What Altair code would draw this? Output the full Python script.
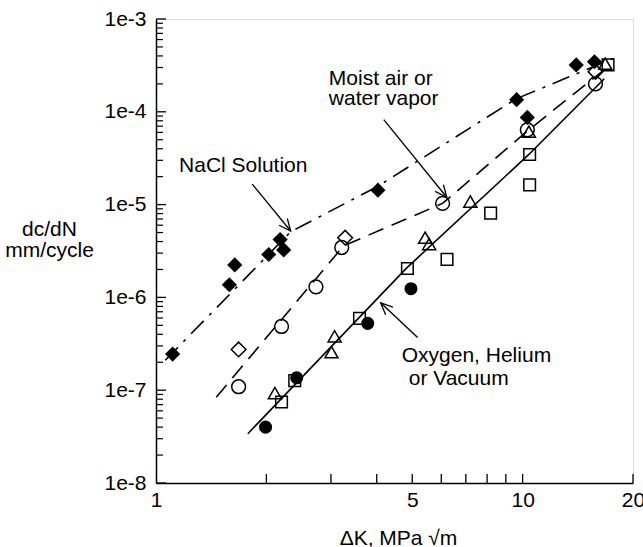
import math
import altair as alt
import pandas as pd

# ---------------- data ----------------
# NaCl solution: filled diamonds
nacl_x = [1.11, 1.585, 1.64, 2.03, 2.18, 2.23, 4.03, 9.63, 10.3, 14.0, 15.7]
nacl_y = [2.45e-7, 1.37e-6, 2.24e-6, 2.9e-6, 4.2e-6, 3.25e-6, 1.43e-5, 1.35e-4, 8.7e-5, 3.2e-4, 3.46e-4]

# Moist air / water vapor: open circles and open diamonds
moist_circ_x = [1.68, 2.20, 2.73, 3.21, 6.05, 10.3, 15.8]
moist_circ_y = [1.09e-7, 4.86e-7, 1.30e-6, 3.45e-6, 1.03e-5, 6.4e-5, 2.0e-4]
moist_diam_x = [1.68, 3.28, 15.8]
moist_diam_y = [2.75e-7, 4.4e-6, 2.7e-4]

# Oxygen, helium or vacuum: filled circles, open squares, open triangles
oxy_fcirc_x = [1.99, 2.42, 3.78, 4.96]
oxy_fcirc_y = [4.0e-8, 1.36e-7, 5.25e-7, 1.24e-6]
oxy_sq_x = [2.20, 2.39, 3.59, 4.85, 6.22, 8.18, 10.45, 10.45, 17.1]
oxy_sq_y = [7.45e-8, 1.27e-7, 5.94e-7, 2.05e-6, 2.57e-6, 8.1e-6, 1.63e-5, 3.47e-5, 3.2e-4]
oxy_tri_x = [2.11, 3.01, 3.07, 5.42, 5.56, 7.2, 10.4, 16.8]
oxy_tri_y = [9.3e-8, 2.57e-7, 3.81e-7, 4.4e-6, 3.76e-6, 1.08e-5, 6.1e-5, 3.3e-4]

# fitted curves
nacl_line_x = [1.06, 2.33, 4.0, 9.6, 17.8]
nacl_line_y = [2.1e-7, 5.1e-6, 1.55e-5, 1.38e-4, 3.8e-4]
moist_line_x = [1.46, 3.25, 6.05, 10.3, 16.8]
moist_line_y = [8.4e-8, 3.6e-6, 1.03e-5, 6.2e-5, 2.9e-4]
oxy_line_x = [1.78, 4.83, 10.4, 16.7]
oxy_line_y = [3.4e-8, 2.08e-6, 3.47e-5, 2.27e-4]

# annotations
label_center_text = ["NaCl Solution"]
label_center_x = [1.73]
label_center_y = [2.6e-5]
label_left_text = ["Moist air or", "water vapor", "Oxygen, Helium", "or Vacuum"]
label_left_x = [2.96, 2.96, 4.68, 4.89]
label_left_y = [2.27e-4, 1.39e-4, 2.31e-7, 1.31e-7]

arrow_x = [1.83, 4.18, 5.17]
arrow_y = [1.66e-5, 8.24e-5, 3.69e-7]
arrow_x2 = [2.33, 6.21, 4.10]
arrow_y2 = [5.19e-6, 1.2e-5, 8.75e-7]

# axis ticks
x_label_values = [1, 5, 10, 20]
x_tick_values = [2, 3, 4, 5, 6, 7, 8, 9, 10, 20]
y_label_values = [1e-8, 1e-7, 1e-6, 1e-5, 1e-4, 1e-3]
y_minor_mult = [2, 3, 4, 5, 6, 7, 8, 9]
y_decades = [1e-8, 1e-7, 1e-6, 1e-5, 1e-4]

# ---------------- layout ----------------
W, H = 477, 464
LEFT, TOP = 156, 19
FONT = "Liberation Sans"
FS = 21
XMIN, XMAX = 1, 20
YMIN, YMAX = 1e-8, 1e-3

xs = alt.Scale(type="log", domain=[XMIN, XMAX], nice=False)
ys = alt.Scale(type="log", domain=[YMIN, YMAX], nice=False)

xaxis = alt.Axis(values=x_label_values, format="d", ticks=False, grid=False,
                 domainColor="black", domainWidth=1.5, labelFlush=False,
                 labelOverlap=False, labelPadding=6, labelColor="black",
                 labelFont=FONT, labelFontSize=FS,
                 title="ΔK, MPa √m", titleFont=FONT, titleFontSize=FS,
                 titleFontWeight="normal", titleColor="black",
                 titleBaseline="alphabetic", titleY=61, titleX=242)
yaxis = alt.Axis(values=y_label_values,
                 labelExpr="'1e-' + round(-log(datum.value)/LN10)",
                 ticks=False, grid=False, domainColor="black", domainWidth=1.5,
                 labelPadding=10, labelColor="black", labelFont=FONT,
                 labelFontSize=FS, labelOverlap=False,
                 title=["dc/dN", "mm/cycle"], titleAngle=0, titleAlign="center",
                 titleBaseline="middle", titleX=49 - LEFT, titleY=210,
                 titleFont=FONT, titleFontSize=FS, titleFontWeight="normal",
                 titleColor="black", titleLineHeight=21)

X = alt.X("x:Q", scale=xs, axis=xaxis)
Y = alt.Y("y:Q", scale=ys, axis=yaxis)


def df(xv, yv, **extra):
    d = pd.DataFrame({"x": xv, "y": yv})
    for k, v in extra.items():
        d[k] = v
    return d


layers = []

# fitted lines
for lx, ly, dash in [(nacl_line_x, nacl_line_y, [18, 8, 3, 8]),
                     (moist_line_x, moist_line_y, [16, 9]),
                     (oxy_line_x, oxy_line_y, None)]:
    kw = dict(color="black", strokeWidth=1.6)
    if dash:
        kw["strokeDash"] = dash
    layers.append(alt.Chart(df(lx, ly)).mark_line(**kw).encode(x=X, y=Y))

# markers
marker_specs = [
    (nacl_x, nacl_y, "diamond", True, 230),
    (oxy_fcirc_x, oxy_fcirc_y, "circle", True, 170),
    (moist_circ_x, moist_circ_y, "circle", False, 190),
    (moist_diam_x, moist_diam_y, "diamond", False, 215),
    (oxy_sq_x, oxy_sq_y, "square", False, 135),
    (oxy_tri_x, oxy_tri_y, "triangle-up", False, 170),
]
for mx, my, shape, filled, size in marker_specs:
    if filled:
        mk = alt.Chart(df(mx, my)).mark_point(shape=shape, filled=True, color="black",
                                              size=size, opacity=1)
    else:
        mk = alt.Chart(df(mx, my)).mark_point(shape=shape, filled=False, stroke="black",
                                              strokeWidth=1.5, size=size, opacity=1)
    layers.append(mk.encode(x=X, y=Y))

# axis ticks (inward)
major_y = df([XMIN] * len(y_label_values), y_label_values)
minor_vals = [m * d for d in y_decades for m in y_minor_mult]
minor_y = df([XMIN] * len(minor_vals), minor_vals)
layers.append(alt.Chart(major_y).mark_rule(color="black", strokeWidth=1.3).encode(
    y=Y, x=alt.value(0), x2=alt.value(10)))
layers.append(alt.Chart(minor_y).mark_rule(color="black", strokeWidth=1.2).encode(
    y=Y, x=alt.value(0), x2=alt.value(7)))
xt = df(x_tick_values, [YMIN] * len(x_tick_values))
layers.append(alt.Chart(xt).mark_rule(color="black", strokeWidth=1.3).encode(
    x=X, y=alt.value(H), y2=alt.value(H - 9)))

# arrows
def to_px(x, y):
    px = W * math.log10(x / XMIN) / math.log10(XMAX / XMIN)
    py = H * (1 - math.log10(y / YMIN) / math.log10(YMAX / YMIN))
    return px, py

angles = []
for a, b, c, d in zip(arrow_x, arrow_y, arrow_x2, arrow_y2):
    p0 = to_px(a, b)
    p1 = to_px(c, d)
    angles.append(math.degrees(math.atan2(p1[1] - p0[1], p1[0] - p0[0])) % 360)

arr = pd.DataFrame({"x": arrow_x, "y": arrow_y, "x2": arrow_x2, "y2": arrow_y2,
                    "ang": angles})
layers.append(alt.Chart(arr).mark_rule(color="black", strokeWidth=1.3).encode(
    x=X, y=Y, x2="x2:Q", y2="y2:Q"))
heads = pd.DataFrame({"x": arrow_x2, "y": arrow_y2, "ang": angles})
layers.append(alt.Chart(heads).mark_point(
    shape="M-1,-0.45L0,0L-1,0.45", filled=False, stroke="black", strokeWidth=1.3,
    size=560, opacity=1).encode(x=X, y=Y, angle=alt.Angle("ang:Q", scale=None)))

# annotation text
tc = df(label_center_x, label_center_y, t=label_center_text)
layers.append(alt.Chart(tc).mark_text(font=FONT, fontSize=FS, color="black",
                                      align="center", baseline="middle").encode(
    x=X, y=Y, text="t:N"))
tl = df(label_left_x, label_left_y, t=label_left_text)
layers.append(alt.Chart(tl).mark_text(font=FONT, fontSize=FS, color="black",
                                      align="left", baseline="middle").encode(
    x=X, y=Y, text="t:N"))

chart = alt.layer(*layers).properties(
    width=W, height=H,
    autosize=alt.AutoSizeParams(type="none"),
    padding={"left": LEFT, "top": TOP, "right": 643 - LEFT - W, "bottom": 547 - TOP - H},
).configure_view(stroke=None).configure(background="white")

chart.save("out.html", embed_options={"renderer": "svg", "actions": False})
